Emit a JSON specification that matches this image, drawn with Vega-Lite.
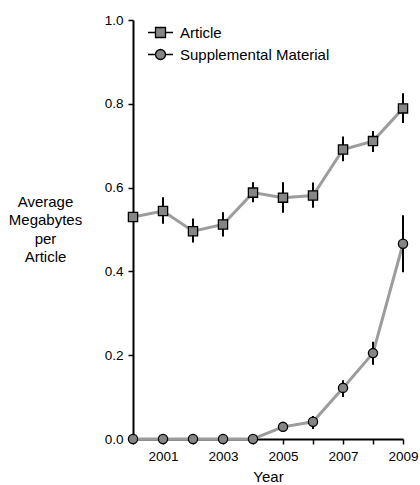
{
  "$schema": "https://vega.github.io/schema/vega-lite/v6.json",
  "width": 270,
  "height": 419,
  "autosize": {"type": "none"},
  "padding": {"left": 133, "top": 20, "right": 17, "bottom": 46},
  "background": "white",
  "config": {
    "view": {"stroke": null},
    "font": "Liberation Sans",
    "axis": {"labelFont": "Liberation Sans", "titleFont": "Liberation Sans", "labelColor": "black", "titleColor": "black", "domainColor": "black", "tickColor": "black", "domainWidth": 2, "tickWidth": 1.5, "tickSize": 5, "grid": false, "labelFontSize": 13.5, "titleFontSize": 15, "titleFontWeight": "normal"},
    "legend": {"labelFont": "Liberation Sans", "labelFontSize": 15, "labelColor": "black", "padding": 0}
  },
  "data": {
    "values": [
      {"year": 2000, "series": "Article", "value": 0.530, "lo": 0.520, "hi": 0.540},
      {"year": 2001, "series": "Article", "value": 0.544, "lo": 0.514, "hi": 0.577},
      {"year": 2002, "series": "Article", "value": 0.496, "lo": 0.469, "hi": 0.526},
      {"year": 2003, "series": "Article", "value": 0.512, "lo": 0.483, "hi": 0.541},
      {"year": 2004, "series": "Article", "value": 0.588, "lo": 0.565, "hi": 0.613},
      {"year": 2005, "series": "Article", "value": 0.576, "lo": 0.540, "hi": 0.613},
      {"year": 2006, "series": "Article", "value": 0.581, "lo": 0.552, "hi": 0.612},
      {"year": 2007, "series": "Article", "value": 0.691, "lo": 0.663, "hi": 0.722},
      {"year": 2008, "series": "Article", "value": 0.711, "lo": 0.685, "hi": 0.735},
      {"year": 2009, "series": "Article", "value": 0.789, "lo": 0.754, "hi": 0.825},
      {"year": 2000, "series": "Supplemental Material", "value": 0, "lo": 0, "hi": 0},
      {"year": 2001, "series": "Supplemental Material", "value": 0, "lo": 0, "hi": 0},
      {"year": 2002, "series": "Supplemental Material", "value": 0, "lo": 0, "hi": 0},
      {"year": 2003, "series": "Supplemental Material", "value": 0, "lo": 0, "hi": 0},
      {"year": 2004, "series": "Supplemental Material", "value": 0, "lo": 0, "hi": 0},
      {"year": 2005, "series": "Supplemental Material", "value": 0.029, "lo": 0.022, "hi": 0.036},
      {"year": 2006, "series": "Supplemental Material", "value": 0.041, "lo": 0.024, "hi": 0.055},
      {"year": 2007, "series": "Supplemental Material", "value": 0.122, "lo": 0.100, "hi": 0.140},
      {"year": 2008, "series": "Supplemental Material", "value": 0.205, "lo": 0.177, "hi": 0.232},
      {"year": 2009, "series": "Supplemental Material", "value": 0.466, "lo": 0.398, "hi": 0.534}
    ]
  },
  "encoding": {
    "x": {
      "field": "year", "type": "quantitative",
      "scale": {"domain": [2000, 2009], "nice": false, "zero": false},
      "axis": {"title": "Year", "values": [2000, 2001, 2002, 2003, 2004, 2005, 2006, 2007, 2008, 2009], "format": "d", "labelExpr": "datum.value % 2 == 1 ? datum.label : ''", "labelPadding": 5, "titlePadding": 7, "labelFlush": false}
    }
  },
  "layer": [
    {
      "mark": {"type": "line", "color": "#9c9c9c", "strokeWidth": 3},
      "encoding": {
        "y": {"field": "value", "type": "quantitative", "scale": {"domain": [0, 1], "nice": false},
          "axis": {"title": ["Average", "Megabytes", "per", "Article"], "values": [0, 0.2, 0.4, 0.6, 0.8, 1.0], "format": ".1f", "labelPadding": 5, "titleAngle": 0, "titleAlign": "center", "titleBaseline": "middle", "titleX": -88, "titleY": 181, "titleLineHeight": 18.5}},
        "detail": {"field": "series"}
      }
    },
    {
      "mark": {"type": "rule", "color": "black", "strokeWidth": 2},
      "encoding": {
        "y": {"field": "lo", "type": "quantitative"},
        "y2": {"field": "hi"}
      }
    },
    {
      "transform": [{"filter": "datum.series == 'Article'"}],
      "mark": {"type": "point", "shape": "square", "filled": true, "fill": "#858585", "stroke": "black", "strokeWidth": 1.3, "opacity": 1, "size": 85},
      "encoding": {
        "y": {"field": "value", "type": "quantitative"}
      }
    },
    {
      "transform": [{"filter": "datum.series == 'Supplemental Material'"}],
      "mark": {"type": "point", "shape": "circle", "filled": true, "fill": "#858585", "stroke": "black", "strokeWidth": 1.3, "opacity": 1, "size": 85},
      "encoding": {
        "y": {"field": "value", "type": "quantitative"}
      }
    },
    {
      "mark": {"type": "point", "filled": false, "color": "black", "fill": "#858585", "strokeWidth": 1.3, "opacity": 1, "size": 0},
      "encoding": {
        "y": {"field": "value", "type": "quantitative"},
        "shape": {
          "field": "series", "type": "nominal",
          "scale": {"domain": ["Article", "Supplemental Material"], "range": ["M-2.5,0H-1M1,0H2.5M-1,-1H1V1H-1Z", "M-2.5,0H-1M1,0H2.5M-1,0A1,1,0,1,1,1,0A1,1,0,1,1,-1,0Z"]},
          "legend": {
            "title": null, "orient": "none", "legendX": 20, "legendY": 5,
            "symbolSize": 100, "symbolStrokeWidth": 1.3,
            "labelOffset": 12, "rowPadding": 5,
            "encode": {"symbols": {"stroke": {"value": "black"}, "strokeWidth": {"value": 1.3}, "strokeOpacity": {"value": 1}, "fill": {"value": "#858585"}, "fillOpacity": {"value": 1}}}
          }
        }
      }
    }
  ]
}
